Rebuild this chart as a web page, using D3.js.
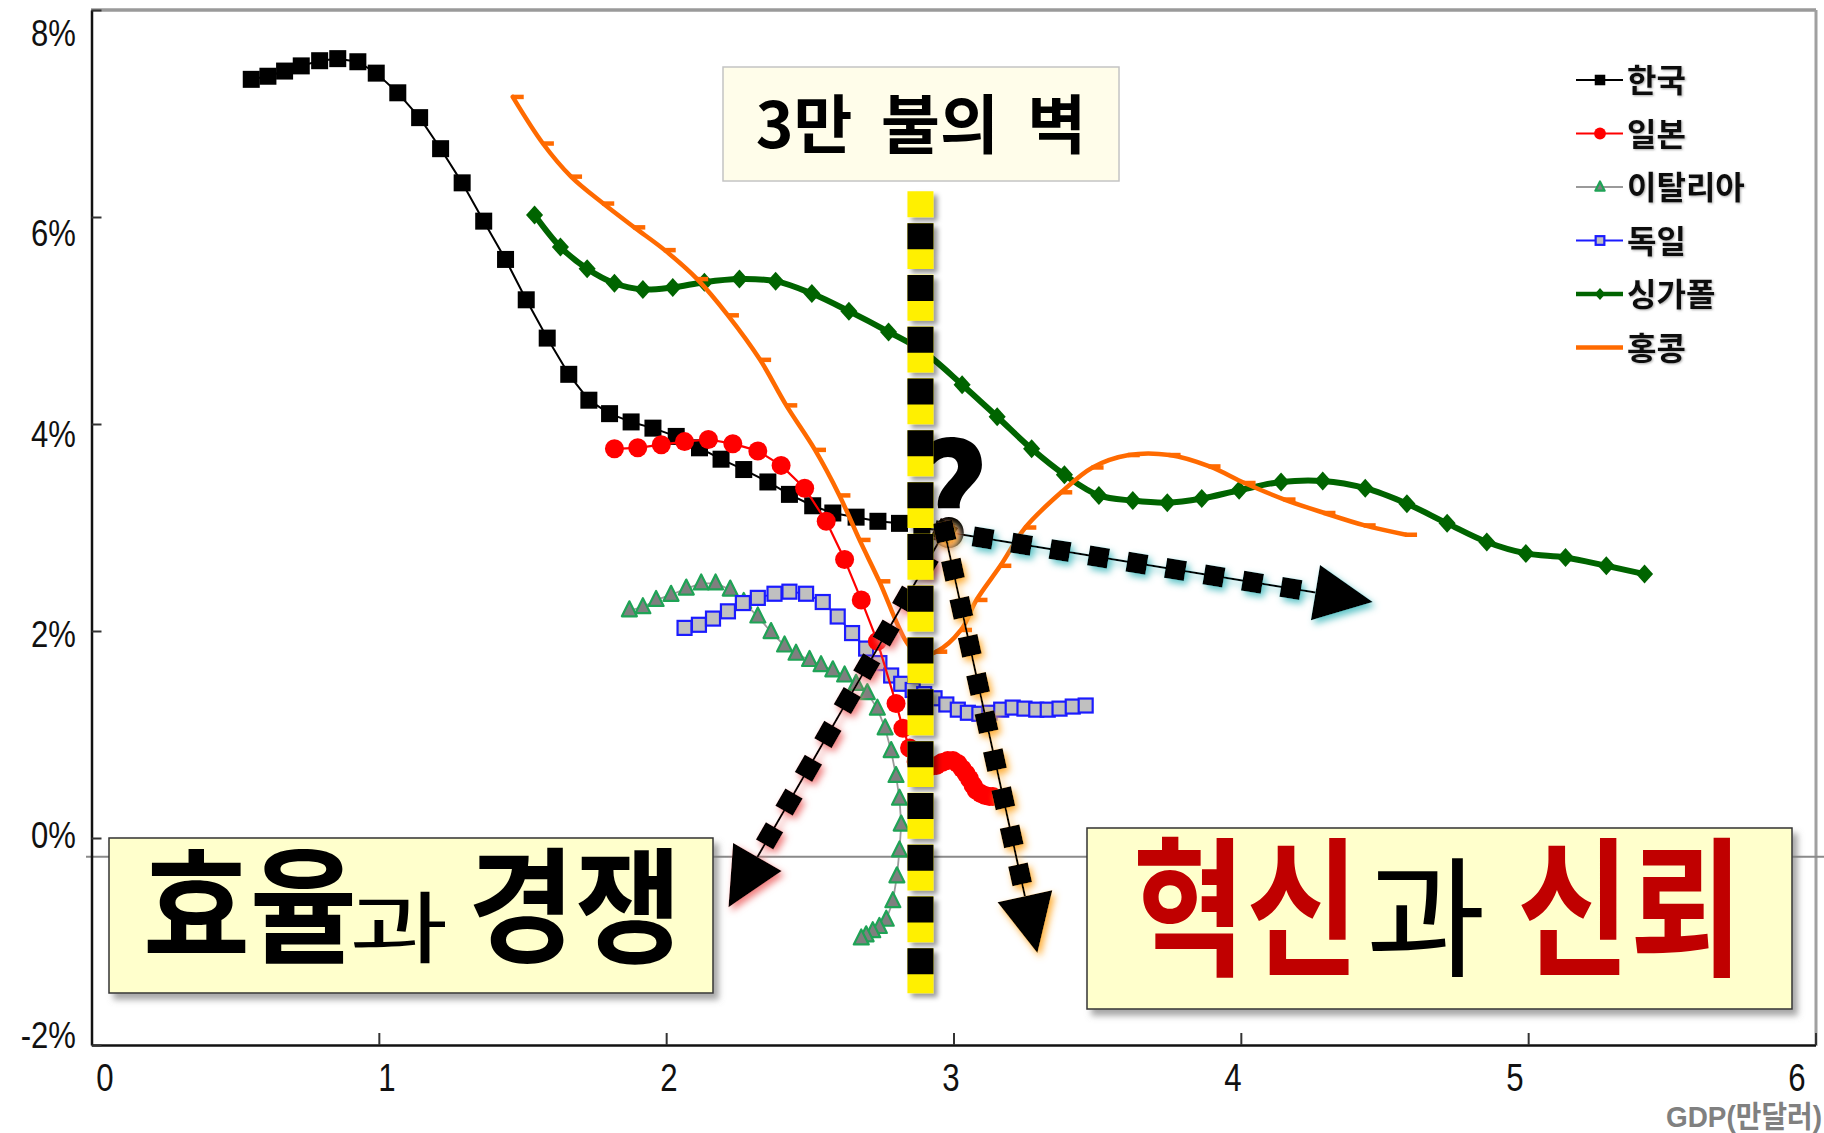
<!DOCTYPE html>
<html><head><meta charset="utf-8">
<script src="https://cdn.jsdelivr.net/npm/d3@7/dist/d3.min.js"></script>
<style>
html,body{margin:0;padding:0;background:#fff;}
svg{display:block;}
</style></head><body>
<svg id="chart" width="1824" height="1133"></svg>
<script>
// ---- axes ----
const xTicks = [0, 1, 2, 3, 4, 5, 6];
const yTicks = [-2, 0, 2, 4, 6, 8];
const yTickLabels = ["-2%", "0%", "2%", "4%", "6%", "8%"];
const xAxisTitle = "GDP(만달러)";
const seriesNames = ["한국", "일본", "이탈리아", "독일", "싱가폴", "홍콩"];

// ---- series: GDP per capita (10,000 USD) vs. growth rate (%) ----
const koreaGdp = [0.556,0.614,0.672,0.730,0.794,0.857,0.927,0.991,1.066,1.142,1.215,1.290,1.365,1.441,1.513,1.586,1.661,1.731,1.803,1.878,1.954,2.035,2.116,2.191,2.270,2.354,2.429,2.510,2.580,2.661,2.737,2.812,2.890,2.969];
const koreaGrowth = [7.33,7.36,7.41,7.46,7.51,7.53,7.50,7.39,7.20,6.96,6.66,6.33,5.96,5.59,5.20,4.83,4.48,4.23,4.10,4.02,3.96,3.88,3.77,3.66,3.56,3.44,3.32,3.21,3.14,3.10,3.06,3.04,3.00,2.96];

const japanGdp = [1.820,1.901,1.983,2.064,2.147,2.232,2.319,2.400,2.482,2.557,2.621,2.679,2.735,2.800,2.824,2.847,2.870,2.900,2.920,2.940,2.960,2.980,2.998,3.015,3.030,3.044,3.056,3.068,3.079,3.095,3.110,3.125,3.137];
const japanGrowth = [3.76,3.77,3.80,3.83,3.85,3.81,3.74,3.60,3.38,3.06,2.69,2.30,1.90,1.30,1.06,0.87,0.74,0.70,0.69,0.70,0.73,0.75,0.75,0.72,0.67,0.62,0.57,0.51,0.46,0.43,0.41,0.40,0.40];

const italyGdp = [1.872,1.919,1.965,2.017,2.070,2.122,2.172,2.223,2.270,2.319,2.365,2.412,2.452,2.499,2.539,2.580,2.621,2.661,2.700,2.735,2.762,2.783,2.800,2.812,2.818,2.812,2.803,2.789,2.766,2.742,2.719,2.696,2.679];
const italyGrowth = [2.20,2.23,2.30,2.35,2.41,2.46,2.46,2.40,2.28,2.14,1.99,1.86,1.78,1.72,1.67,1.62,1.57,1.49,1.40,1.25,1.06,0.84,0.60,0.38,0.13,-0.12,-0.37,-0.61,-0.79,-0.86,-0.90,-0.94,-0.97];

const germanyGdp = [2.064,2.114,2.163,2.215,2.267,2.319,2.377,2.429,2.487,2.545,2.597,2.647,2.696,2.742,2.783,2.818,2.858,2.898,2.934,2.975,3.015,3.050,3.090,3.125,3.166,3.206,3.247,3.288,3.328,3.369,3.415,3.460];
const germanyGrowth = [2.03,2.06,2.12,2.19,2.27,2.32,2.36,2.38,2.36,2.28,2.14,1.98,1.83,1.69,1.57,1.49,1.43,1.39,1.35,1.29,1.24,1.21,1.20,1.21,1.24,1.26,1.25,1.24,1.24,1.25,1.27,1.28];

const singaporeGdp = [1.542,1.632,1.725,1.820,1.919,2.023,2.133,2.255,2.381,2.507,2.636,2.774,2.895,3.030,3.152,3.272,3.386,3.506,3.624,3.744,3.864,3.994,4.140,4.285,4.433,4.578,4.718,4.856,4.992,5.130,5.272,5.405];
const singaporeGrowth = [6.02,5.71,5.50,5.36,5.30,5.32,5.37,5.40,5.38,5.26,5.09,4.89,4.70,4.38,4.07,3.76,3.51,3.31,3.26,3.24,3.28,3.36,3.44,3.45,3.38,3.23,3.04,2.86,2.75,2.71,2.63,2.55];

const hongkongGdp = [1.466,1.571,1.669,1.781,1.889,1.995,2.108,2.215,2.327,2.418,2.518,2.603,2.673,2.742,2.835,2.880,2.940,3.026,3.080,3.163,3.250,3.375,3.484,3.610,3.752,3.891,4.013,4.152,4.291,4.431,4.575];
const hongkongGrowth = [7.16,6.71,6.39,6.13,5.90,5.68,5.40,5.05,4.62,4.18,3.75,3.31,2.88,2.48,1.90,1.77,1.80,2.01,2.30,2.63,3.00,3.34,3.58,3.70,3.70,3.59,3.43,3.27,3.14,3.02,2.93];

// ---- annotations ----
const wallGdp = 2.885;            // the "30,000 dollar wall"
const wallTop = 6.25, wallBottom = -1.50;
const baseLineLevel = -0.18;      // grey reference line
const arrowTipGdp = [4.459, 2.217, 3.292];
const arrowTipGrowth = [2.28, -0.67, -1.11];
const arrowGlow = ["#5fc4c8", "#f07f7f", "#ffb03a"];

// ---- scales ----
const W = 1824, H = 1133;
const x = d3.scaleLinear().domain([0, 6]).range([91.5, 1815.5]);
const y = d3.scaleLinear().domain([-2, 8]).range([1045, 10]);
const xLabelPos = d3.scaleLinear().domain([0, 6]).range([105, 1797]);
const yLabelPos = d3.scaleLinear().domain([-2, 8]).range([1035, 33]);

const svg = d3.select("#chart");
const defs = svg.append("defs");

function shadow(id, dx, dy, sd, color, op) {
  const f = defs.append("filter").attr("id", id)
    .attr("filterUnits", "userSpaceOnUse")
    .attr("x", 0).attr("y", 0).attr("width", W).attr("height", H);
  f.append("feDropShadow").attr("dx", dx).attr("dy", dy).attr("stdDeviation", sd)
    .attr("flood-color", color).attr("flood-opacity", op);
}
shadow("boxShadow", 5, 6, 3, "#777", 0.65);
shadow("wallShadow", 4, 4, 2.5, "#000", 0.4);
shadow("softText", 1, 1, 0.8, "#555", 0.5);
arrowGlow.forEach((c, i) => shadow("glow" + i, 3, 4, 3.5, c, 1));

// ---- frame ----
svg.append("line").attr("x1", 91).attr("x2", 1816).attr("y1", 10).attr("y2", 10)
  .attr("stroke", "#9a9a9a").attr("stroke-width", 3.5);
svg.append("line").attr("x1", 1816).attr("x2", 1816).attr("y1", 10).attr("y2", 1046)
  .attr("stroke", "#a0a0a0").attr("stroke-width", 3);

// grey reference line
svg.append("line").attr("x1", 86).attr("x2", W).attr("y1", y(baseLineLevel)).attr("y2", y(baseLineLevel))
  .attr("stroke", "#8a8a8a").attr("stroke-width", 2);

// axes (inward ticks, labels placed separately)
const gx = svg.append("g").attr("transform", `translate(0,${y(-2)})`)
  .call(d3.axisBottom(x).tickValues(xTicks).tickSizeInner(-12).tickSizeOuter(0).tickFormat(""));
const gy = svg.append("g").attr("transform", `translate(${x(0)},0)`)
  .call(d3.axisLeft(y).tickValues(yTicks).tickSizeInner(-10).tickSizeOuter(0).tickFormat(""));
[gx, gy].forEach(g => {
  g.select(".domain").attr("stroke", "#111").attr("stroke-width", 2.5);
  g.selectAll(".tick line").attr("stroke", "#333").attr("stroke-width", 2);
});

svg.append("g").selectAll("text").data(xTicks).join("text")
  .attr("transform", d => `translate(${xLabelPos(d)},1091) scale(0.8,1)`)
  .attr("text-anchor", "middle")
  .style("font-family", "'Liberation Sans', Arial, sans-serif")
  .style("font-size", "39px").attr("fill", "#111")
  .text(d => d);

svg.append("g").selectAll("text").data(yTicks).join("text")
  .attr("transform", d => `translate(76,${yLabelPos(d) + 13}) scale(0.84,1)`)
  .attr("text-anchor", "end")
  .style("font-family", "'Liberation Sans', Arial, sans-serif")
  .style("font-size", "37px").attr("fill", "#111")
  .text((d, i) => yTickLabels[i]);

svg.append("text").attr("transform", "translate(1822,1127) scale(0.93,1)").attr("text-anchor", "end")
  .style("font-family", "'Liberation Sans', 'Noto Sans CJK KR', sans-serif")
  .style("font-size", "30px").style("font-weight", 700).attr("fill", "#808080")
  .text(xAxisTitle);

// ---- marker shapes ----
function marker(g, type, px, py, st) {
  if (type === "square") {
    g.append("rect").attr("x", px - st.size / 2).attr("y", py - st.size / 2)
      .attr("width", st.size).attr("height", st.size)
      .attr("fill", st.fill).attr("stroke", st.stroke || "none").attr("stroke-width", st.sw || 0);
  } else if (type === "circle") {
    g.append("circle").attr("cx", px).attr("cy", py).attr("r", st.size / 2).attr("fill", st.fill);
  } else if (type === "triangle") {
    const h = st.size, w = st.size * 1.0;
    g.append("path").attr("d", `M${px},${py - h * 0.6}L${px + w / 2},${py + h * 0.4}L${px - w / 2},${py + h * 0.4}Z`)
      .attr("fill", st.fill).attr("stroke", st.stroke).attr("stroke-width", st.sw).attr("stroke-linejoin", "round");
  } else if (type === "diamond") {
    const w = st.size * 0.9, h = st.size;
    g.append("path").attr("d", `M${px},${py - h / 2}L${px + w / 2},${py}L${px},${py + h / 2}L${px - w / 2},${py}Z`)
      .attr("fill", st.fill);
  } else if (type === "dash") {
    g.append("line").attr("x1", px - 1).attr("x2", px + st.size).attr("y1", py).attr("y2", py)
      .attr("stroke", st.fill).attr("stroke-width", st.sw).attr("stroke-linecap", "butt");
  }
}

function drawSeries(gdp, growth, st) {
  const pts = gdp.map((g, i) => [x(g), y(growth[i])]);
  const g = svg.append("g");
  g.append("path").attr("d", d3.line().curve(st.curve || d3.curveLinear)(pts))
    .attr("fill", "none").attr("stroke", st.line).attr("stroke-width", st.lw)
    .attr("stroke-linejoin", "round").attr("stroke-linecap", "round");
  pts.forEach(p => marker(g, st.marker, p[0], p[1], st.m));
}

const styles = {
  korea: { line: "#000", lw: 2, marker: "square", m: { size: 17, fill: "#000" } },
  japan: { line: "#ff0000", lw: 2.2, marker: "circle", m: { size: 19, fill: "#ff0000" } },
  italy: { line: "#9a9a9a", lw: 1.8, marker: "triangle", m: { size: 15, fill: "#7f7f7f", stroke: "#1fa356", sw: 2.2 } },
  germany: { line: "#1b1bff", lw: 1.8, marker: "square", m: { size: 14, fill: "#c0c0c0", stroke: "#1b1bff", sw: 2.2 } },
  singapore: { line: "#006400", lw: 6, marker: "diamond", m: { size: 19, fill: "#006400" }, curve: d3.curveCatmullRom },
  hongkong: { line: "#ff6a00", lw: 4.5, marker: "dash", m: { size: 11, fill: "#ff6a00", sw: 4.5 }, curve: d3.curveCatmullRom }
};

drawSeries(italyGdp, italyGrowth, styles.italy);
drawSeries(germanyGdp, germanyGrowth, styles.germany);
drawSeries(koreaGdp, koreaGrowth, styles.korea);
drawSeries(japanGdp, japanGrowth, styles.japan);
drawSeries(singaporeGdp, singaporeGrowth, styles.singapore);
drawSeries(hongkongGdp, hongkongGrowth, styles.hongkong);

// ---- question mark ----
svg.append("text").attr("x", 951).attr("y", 546).attr("text-anchor", "middle")
  .style("font-family", "'Noto Sans CJK KR', 'Liberation Sans', sans-serif").style("font-weight", 900)
  .style("font-size", "140px").attr("fill", "#000").text("?");

// ---- dotted arrows from Korea's latest point ----
const ox = x(koreaGdp[koreaGdp.length - 1]), oy = y(koreaGrowth[koreaGrowth.length - 1]);
arrowTipGdp.forEach((tg, i) => {
  const tx = x(tg), ty = y(arrowTipGrowth[i]);
  const dx = tx - ox, dy = ty - oy, L = Math.hypot(dx, dy);
  const ux = dx / L, uy = dy / L, ang = Math.atan2(dy, dx) * 180 / Math.PI;
  const headLen = 58, headHalf = 28, step = 39;
  const g = svg.append("g").attr("filter", `url(#glow${i})`);
  const bx = tx - ux * headLen, by = ty - uy * headLen;
  g.append("line").attr("x1", ox).attr("y1", oy).attr("x2", bx).attr("y2", by)
    .attr("stroke", "#000").attr("stroke-width", 2);
  for (let k = 0; k * step < L - headLen - 12; k++) {
    const cx = ox + ux * k * step, cy = oy + uy * k * step;
    g.append("rect").attr("x", -10).attr("y", -10).attr("width", 20).attr("height", 20)
      .attr("fill", "#000").attr("transform", `translate(${cx},${cy}) rotate(${ang})`);
  }
  g.append("path")
    .attr("d", `M${tx},${ty}L${bx - uy * headHalf},${by + ux * headHalf}L${bx + uy * headHalf},${by - ux * headHalf}Z`)
    .attr("fill", "#000");
});

// ---- the wall: yellow and black dashes ----
const wx = x(wallGdp);
const wallG = svg.append("g").attr("filter", "url(#wallShadow)");
wallG.append("line").attr("x1", wx).attr("x2", wx).attr("y1", y(wallTop)).attr("y2", y(wallBottom))
  .attr("stroke", "#fff000").attr("stroke-width", 26)
  .attr("stroke-dasharray", "46 5.8").attr("stroke-dashoffset", 20);
wallG.append("line").attr("x1", wx).attr("x2", wx).attr("y1", y(wallTop) + 32).attr("y2", y(wallBottom))
  .attr("stroke", "#000").attr("stroke-width", 26)
  .attr("stroke-dasharray", "26 25.8");

// ---- title box ----
svg.append("rect").attr("x", 723).attr("y", 67).attr("width", 396).attr("height", 114)
  .attr("fill", "#fffdea").attr("stroke", "#c4c4c4").attr("stroke-width", 1.5);
svg.append("text").attr("x", 921).attr("y", 148).attr("text-anchor", "middle")
  .style("font-family", "'Noto Sans CJK KR', sans-serif").style("font-weight", 700)
  .style("font-size", "64px").style("word-spacing", "14px").attr("fill", "#000")
  .text("3만 불의 벽");

// ---- message boxes ----
function messageBox(bx, by, bw, bh, parts) {
  svg.append("rect").attr("x", bx).attr("y", by).attr("width", bw).attr("height", bh)
    .attr("fill", "#ffffcc").attr("stroke", "#333").attr("stroke-width", 1.5)
    .attr("filter", "url(#boxShadow)");
  parts.forEach(p => svg.append("text").attr("text-anchor", "middle")
    .attr("transform", `translate(${p.cx},${p.base}) scale(${p.sx},1)`)
    .style("font-family", "'Noto Sans CJK KR', sans-serif")
    .style("font-size", p.size + "px").style("font-weight", p.weight)
    .attr("fill", p.color).text(p.text));
}
messageBox(109, 838, 604, 155, [
  { text: "효율", color: "#000", size: 125, weight: 700, sx: 0.93, cx: 250, base: 953 },
  { text: "과", color: "#000", size: 78, weight: 400, sx: 1.38, cx: 399, base: 957 },
  { text: "경쟁", color: "#000", size: 125, weight: 700, sx: 0.93, cx: 575, base: 953 }
]);
messageBox(1087, 828, 705, 181, [
  { text: "혁신", color: "#c00000", size: 150, weight: 700, sx: 0.82, cx: 1246, base: 964 },
  { text: "과", color: "#000", size: 130, weight: 400, sx: 1.0, cx: 1426, base: 966 },
  { text: "신뢰", color: "#c00000", size: 150, weight: 700, sx: 0.82, cx: 1630, base: 964 }
]);

// ---- legend ----
const legend = svg.append("g");
const legendStyles = [styles.korea, styles.japan, styles.italy, styles.germany, styles.singapore, styles.hongkong];
seriesNames.forEach((name, i) => {
  const cy = 80 + i * 53.5;
  const st = legendStyles[i];
  legend.append("line").attr("x1", 1576).attr("x2", 1623).attr("y1", cy).attr("y2", cy)
    .attr("stroke", st.line).attr("stroke-width", Math.min(st.lw, 4.5));
  if (st.marker !== "dash") {
    const m = Object.assign({}, st.m, { size: st.m.size * 0.62 });
    marker(legend, st.marker, 1600, cy, m);
  }
  legend.append("text").attr("x", 1627).attr("y", cy + 12)
    .style("font-family", "'Noto Sans CJK KR', sans-serif").style("font-weight", 700)
    .style("font-size", "32px").attr("fill", "#111").attr("filter", "url(#softText)")
    .text(name);
});
</script>
</body></html>
